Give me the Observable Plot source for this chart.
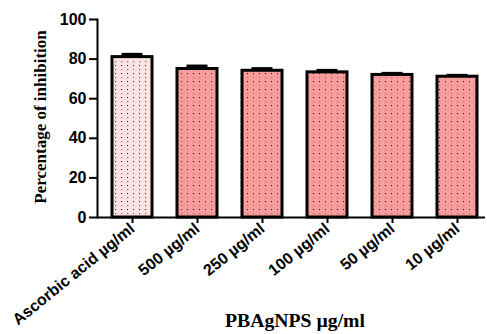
<!DOCTYPE html>
<html>
<head>
<meta charset="utf-8">
<script src="https://cdn.jsdelivr.net/npm/d3@7"></script>
<script src="https://cdn.jsdelivr.net/npm/@observablehq/plot@0.6"></script>
<style>
  html, body { margin: 0; padding: 0; background: #fff; }
  svg { display: block; }
</style>
</head>
<body>
<div id="chart"></div>
<script>
const categories = ["Ascorbic acid µg/ml", "500 µg/ml", "250 µg/ml", "100 µg/ml", "50 µg/ml", "10 µg/ml"];
const values = [81.0, 75.0, 74.1, 73.3, 72.0, 71.1];
const errors = [1.4, 1.5, 1.1, 1.0, 0.8, 0.7];
const yTicks = [0, 20, 40, 60, 80, 100];
const yTitle = "Percentage of inhibition";
const xTitle = "PBAgNPS µg/ml";

const data = categories.map((c, i) => ({cat: c, v: values[i], e: errors[i], k: i === 0 ? "std" : "np"}));

const chart = Plot.plot({
  width: 487,
  height: 334,
  marginLeft: 97,
  marginRight: 2,
  marginTop: 19,
  marginBottom: 117,
  style: {fontFamily: "'Liberation Sans', Arial, sans-serif", background: "#fff", color: "#000"},
  x: {domain: categories, paddingInner: 0.379, paddingOuter: 0.129, align: 0.68, label: null},
  y: {domain: [0, 100], label: null},
  marks: [
    Plot.barY(data, {x: "cat", y: "v", inset: 0, fill: d => d.k === "std" ? "url(#dotsStd)" : "url(#dotsNp)", stroke: "#000", strokeWidth: 3}),
    Plot.ruleX(data, {x: "cat", y1: "v", y2: d => d.v + d.e, stroke: "#000", strokeWidth: 2}),
    Plot.tickY(data, {x: "cat", y: d => d.v + d.e, stroke: "#000", strokeWidth: 3, insetLeft: 9.5, insetRight: 9.5}),
    Plot.ruleY([0], {stroke: "#000", strokeWidth: 2}),
    Plot.frame({anchor: "left", stroke: "#000", strokeWidth: 2}),
    Plot.axisY({ticks: yTicks, tickSize: 8, tickPadding: 3, fontSize: 16, fontWeight: "bold", label: null, strokeWidth: 2}),
    Plot.axisX({tickSize: 6, tickPadding: 3, tickRotate: -39, fontSize: 16, fontWeight: "bold", label: null, strokeWidth: 2})
  ]
});

const svg = d3.select(chart);
const defs = svg.insert("defs", ":first-child");
function makePattern(id, base) {
  const p = defs.append("pattern").attr("id", id).attr("patternUnits", "userSpaceOnUse")
    .attr("width", 6).attr("height", 8);
  p.append("rect").attr("width", 6).attr("height", 8).attr("fill", base);
  p.append("rect").attr("x", 1).attr("y", 1).attr("width", 1).attr("height", 1).attr("fill", "#000");
  p.append("rect").attr("x", 1).attr("y", 5).attr("width", 1.3).attr("height", 1.3).attr("fill", "#b07070");
}
makePattern("dotsStd", "#fde3e3");
makePattern("dotsNp", "#f89c9c");

svg.append("text")
  .attr("transform", "translate(46,117) rotate(-90)")
  .attr("text-anchor", "middle")
  .attr("font-family", "'Liberation Serif', 'Times New Roman', serif")
  .attr("font-weight", "bold")
  .attr("font-size", 17)
  .attr("fill", "#000")
  .text(yTitle);

svg.append("text")
  .attr("x", 295)
  .attr("y", 327)
  .attr("text-anchor", "middle")
  .attr("font-family", "'Liberation Serif', 'Times New Roman', serif")
  .attr("font-weight", "bold")
  .attr("font-size", 18)
  .attr("textLength", 140)
  .attr("lengthAdjust", "spacingAndGlyphs")
  .attr("fill", "#000")
  .text(xTitle);

document.getElementById("chart").appendChild(chart);
</script>
</body>
</html>
